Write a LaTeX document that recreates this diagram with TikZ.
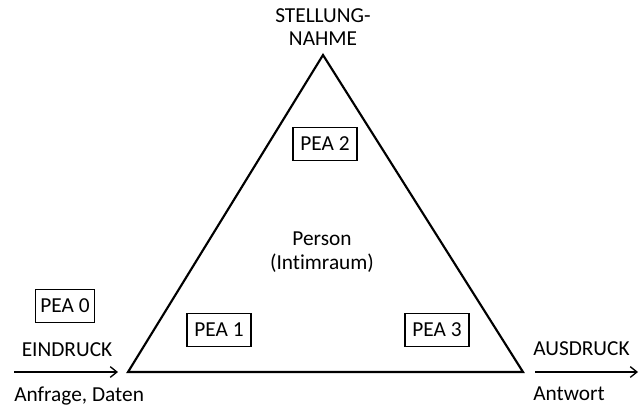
\documentclass[tikz,border=0pt]{standalone}
\usepackage{fontspec}
\setmainfont[Ligatures=NoCommon]{Carlito}
\usetikzlibrary{arrows.meta}
\begin{document}
\begin{tikzpicture}[x=0.75pt,y=-0.75pt,
  lbl/.style={font=\fontsize{16}{19}\selectfont, inner sep=0pt},
  peabox/.style={draw, line width=0.9pt, font=\fontsize{16}{19}\selectfont, minimum width=48pt, minimum height=24.5pt, inner sep=2pt},
  flow/.style={line width=1.1pt, -{Straight Barb[length=5pt,width=8pt,line width=1pt]}},
  tri/.style={line width=1.6pt, line join=miter}]
\useasboundingbox (0,0) rectangle (642,407);
\coordinate (top) at (323,55);
\coordinate (bl) at (128,372);
\coordinate (br) at (523,372);
\draw[tri] (top) -- (bl) -- (br) -- cycle;
\node[lbl] (st1) at (323,16) {STELLUNG-};
\node[lbl] (st2) at (323,39) {NAHME};
\node[peabox] (p2) at (325,144) {PEA 2};
\node[lbl] (per) at (322,239) {Person};
\node[lbl] (intim) at (322,263) {(Intimraum)};
\node[peabox, minimum width=44pt] (p0) at (65,306) {PEA 0};
\node[peabox] (p1) at (219,330) {PEA 1};
\node[peabox] (p3) at (437,330) {PEA 3};
\node[lbl] (ein) at (67,350) {EINDRUCK};
\node[lbl, anchor=west] (anf) at (14,396) {Anfrage, Daten};
\node[lbl, anchor=west] (aus) at (533,349) {AUSDRUCK};
\node[lbl, anchor=west] (ant) at (533,394) {Antwort};
\coordinate (inS) at (14,372);
\coordinate (inE) at (118,372);
\coordinate (outS) at (535,372);
\coordinate (outE) at (638,372);
\draw[flow] (inS) -- (inE);
\draw[flow] (outS) -- (outE);
\end{tikzpicture}
\end{document}
